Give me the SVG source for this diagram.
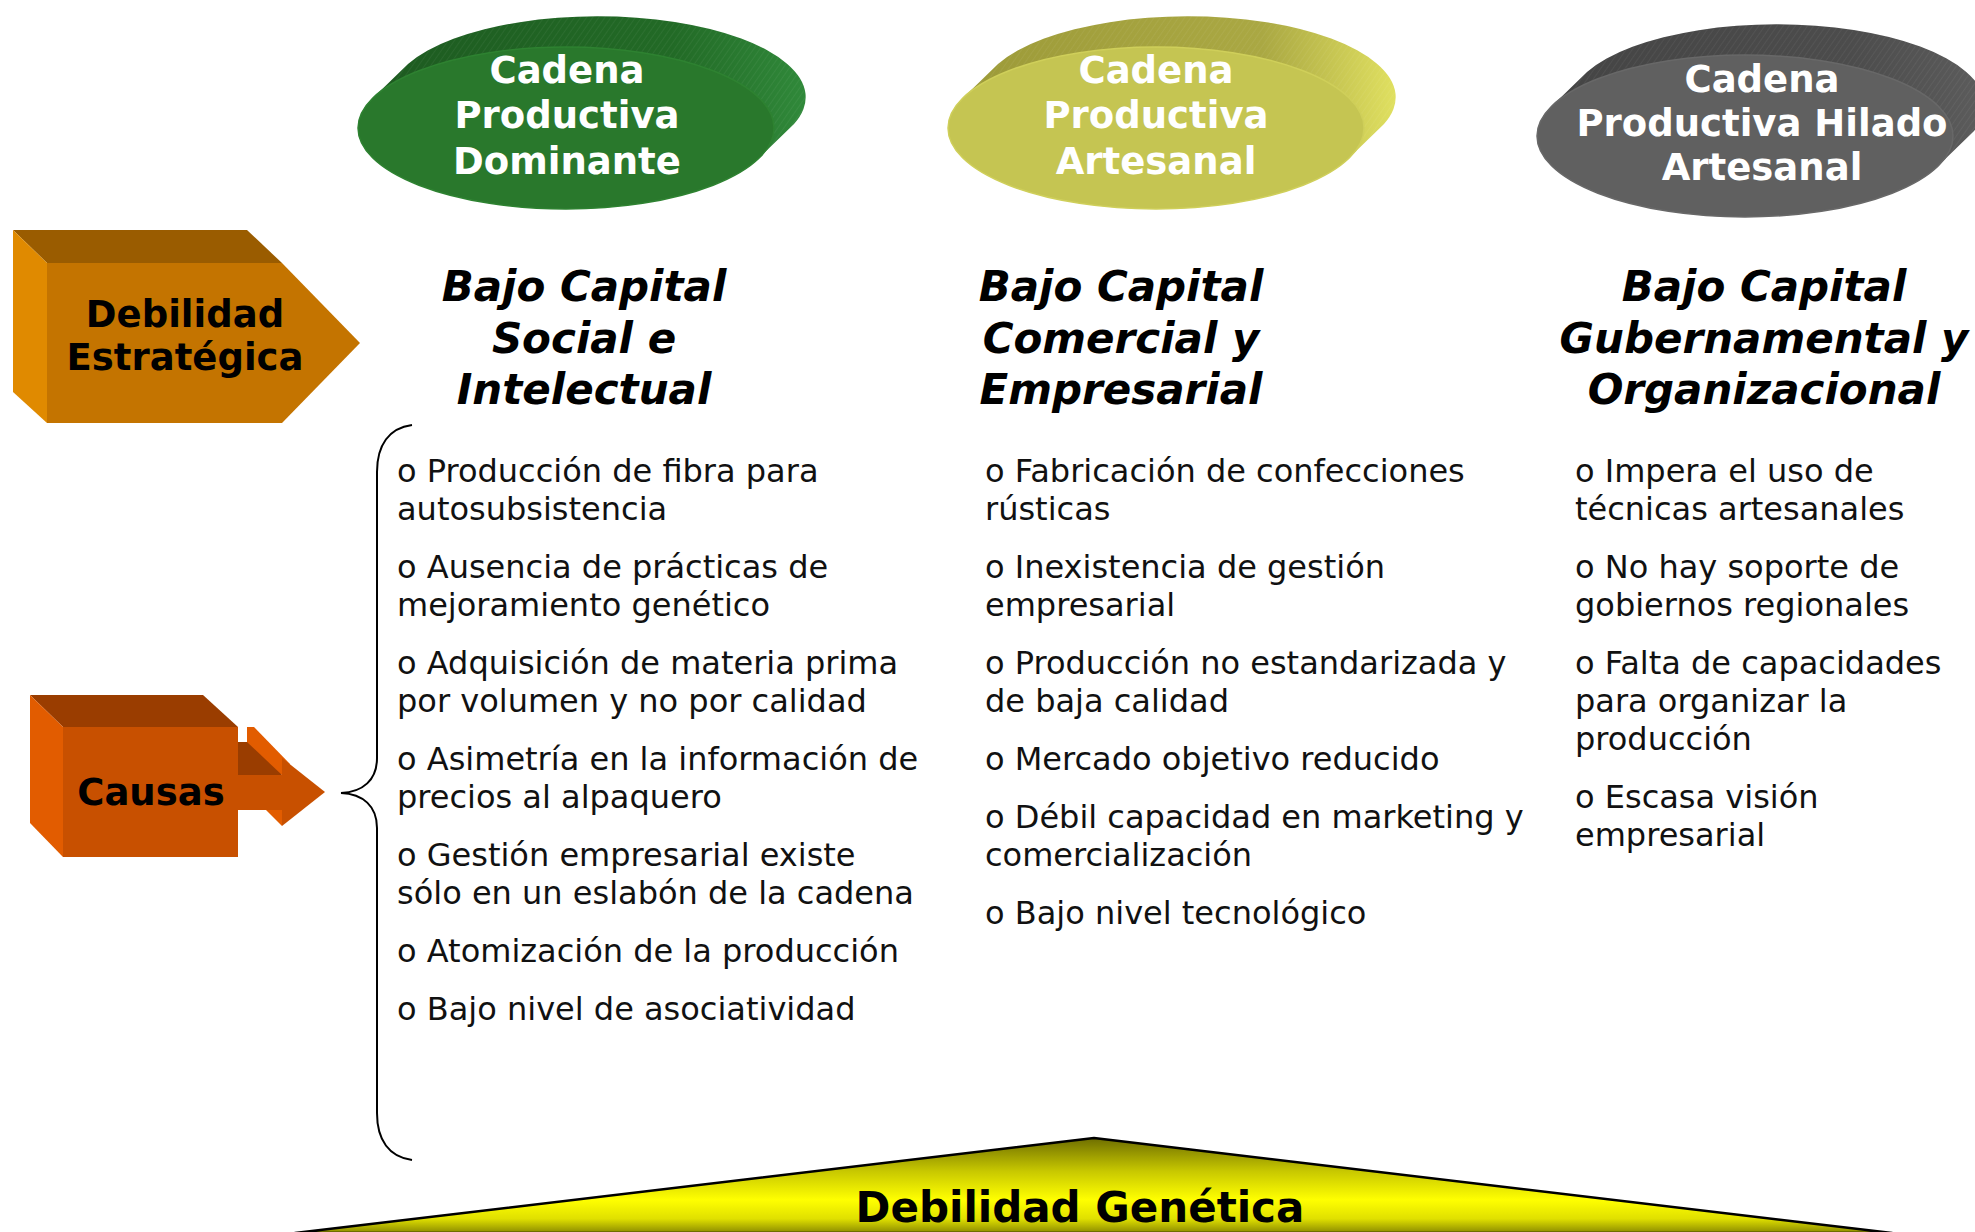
<svg xmlns="http://www.w3.org/2000/svg" width="1975" height="1232" viewBox="0 0 1975 1232">
<style>
  .oval { font-family: "DejaVu Sans", Verdana, sans-serif; font-weight: bold; font-size: 37px; fill: #ffffff; text-anchor: middle; }
  .box { font-family: "DejaVu Sans", Verdana, sans-serif; font-weight: bold; font-size: 37px; fill: #000000; text-anchor: middle; }
  .head { font-family: "DejaVu Sans", Verdana, sans-serif; font-weight: bold; font-style: italic; font-size: 42px; fill: #000000; text-anchor: middle; }
  .item { font-family: "DejaVu Sans", Verdana, sans-serif; font-size: 32px; fill: #111111; }
  .base { font-family: "DejaVu Sans", Verdana, sans-serif; font-weight: bold; font-size: 42px; fill: #000000; text-anchor: middle; }
  .brace { fill: none; stroke: #000000; stroke-width: 2; }
</style>
<defs>
  <pattern id="hatch" width="5" height="5" patternUnits="userSpaceOnUse" patternTransform="rotate(35)">
    <line x1="0" y1="0" x2="0" y2="5" stroke="#ffffff" stroke-opacity="0.10" stroke-width="1"/>
  </pattern>
  <linearGradient id="gSide" x1="0" y1="0" x2="1" y2="0">
    <stop offset="0" stop-color="#1d5a20"/>
    <stop offset="0.7" stop-color="#226a26"/>
    <stop offset="1" stop-color="#30893a"/>
  </linearGradient>
  <linearGradient id="ySide" x1="0" y1="0" x2="1" y2="0">
    <stop offset="0" stop-color="#9c9a38"/>
    <stop offset="0.7" stop-color="#aaa843"/>
    <stop offset="1" stop-color="#e0e060"/>
  </linearGradient>
  <linearGradient id="kSide" x1="0" y1="0" x2="1" y2="0">
    <stop offset="0" stop-color="#444444"/>
    <stop offset="0.7" stop-color="#4c4c4c"/>
    <stop offset="1" stop-color="#5c5c5c"/>
  </linearGradient>
  <linearGradient id="baseGrad" x1="0" y1="0" x2="0" y2="1">
    <stop offset="0" stop-color="#6e6e00"/>
    <stop offset="0.35" stop-color="#c8c800"/>
    <stop offset="0.65" stop-color="#ffff00"/>
    <stop offset="0.85" stop-color="#e0e000"/>
    <stop offset="1" stop-color="#8a8a00"/>
  </linearGradient>
</defs>

<rect x="0" y="0" width="1975" height="1232" fill="#ffffff"/>

<!-- Top ovals -->
<g id="cadena-dominante">
  <path d="M 373,98 L 408,64 A 208 81 0 0 1 794,124 L 759,158 A 208 81 0 0 1 373,98 Z" fill="url(#gSide)"/>
  <path d="M 373,98 L 408,64 A 208 81 0 0 1 794,124 L 759,158 A 208 81 0 0 1 373,98 Z" fill="url(#hatch)"/>
  <ellipse cx="566" cy="128" rx="208" ry="81" fill="#29782c" stroke="#2e8231" stroke-width="1.5"/>
  <text class="oval" x="567" y="83">Cadena</text>
  <text class="oval" x="567" y="128">Productiva</text>
  <text class="oval" x="567" y="174">Dominante</text>
</g>

<g id="cadena-artesanal">
  <path d="M 963,98 L 998,64 A 208 81 0 0 1 1384,124 L 1349,158 A 208 81 0 0 1 963,98 Z" fill="url(#ySide)"/>
  <path d="M 963,98 L 998,64 A 208 81 0 0 1 1384,124 L 1349,158 A 208 81 0 0 1 963,98 Z" fill="url(#hatch)"/>
  <ellipse cx="1156" cy="128" rx="208" ry="81" fill="#c5c552" stroke="#cfcf5a" stroke-width="1.5"/>
  <text class="oval" x="1156" y="83">Cadena</text>
  <text class="oval" x="1156" y="128">Productiva</text>
  <text class="oval" x="1156" y="174">Artesanal</text>
</g>

<g id="cadena-hilado">
  <path d="M 1552,106 L 1587,72 A 208 81 0 0 1 1973,132 L 1938,166 A 208 81 0 0 1 1552,106 Z" fill="url(#kSide)"/>
  <path d="M 1552,106 L 1587,72 A 208 81 0 0 1 1973,132 L 1938,166 A 208 81 0 0 1 1552,106 Z" fill="url(#hatch)"/>
  <ellipse cx="1745" cy="136" rx="208" ry="81" fill="#606060" stroke="#686868" stroke-width="1.5"/>
  <text class="oval" x="1762" y="92">Cadena</text>
  <text class="oval" x="1762" y="136">Productiva Hilado</text>
  <text class="oval" x="1762" y="180">Artesanal</text>
</g>

<!-- Debilidad Estrategica -->
<g id="debilidad-estrategica">
  <polygon points="13,230 247,230 282,263 47,263" fill="#9a5c00"/>
  <polygon points="13,230 47,263 47,423 13,392" fill="#e08a00"/>
  <polygon points="47,263 282,263 360,343 282,423 47,423" fill="#c47400"/>
  <text class="box" x="185" y="327">Debilidad</text>
  <text class="box" x="185" y="370">Estratégica</text>
</g>

<!-- Causas -->
<g id="causas">
  <polygon points="30,695 203,695 238,727 63,727" fill="#9a3d00"/>
  <polygon points="30,695 63,727 63,857 30,823" fill="#e25c00"/>
  <polygon points="238,742 263,742 282,775 238,775" fill="#9a3d00"/>
  <polygon points="247,727 254,727 290,764 282,775 247,742" fill="#e25c00"/>
  <polygon points="282,758 325,792 282,826" fill="#c85000"/>
  <rect x="238" y="775" width="46" height="35" fill="#c85000"/>
  <polygon points="266,810 282,810 282,826" fill="#e25c00"/>
  <rect x="63" y="727" width="175" height="130" fill="#c85000"/>
  <text class="box" x="151" y="805">Causas</text>
</g>

<!-- Column headers -->
<g id="header-social">
  <text class="head" x="584" y="301">Bajo Capital</text>
  <text class="head" x="584" y="353">Social e</text>
  <text class="head" x="584" y="404">Intelectual</text>
</g>
<g id="header-comercial">
  <text class="head" x="1121" y="301">Bajo Capital</text>
  <text class="head" x="1121" y="353">Comercial y</text>
  <text class="head" x="1121" y="404">Empresarial</text>
</g>
<g id="header-gubernamental">
  <text class="head" x="1764" y="301">Bajo Capital</text>
  <text class="head" x="1764" y="353">Gubernamental y</text>
  <text class="head" x="1764" y="404">Organizacional</text>
</g>

<!-- Connectors -->
<g id="connectors">
  <path class="brace" d="M 412,425 C 389,428 377,445 377,472 L 377,758 C 377,780 363,792 341,793 C 363,794 377,806 377,828 L 377,1113 C 377,1140 389,1157 412,1160"/>
</g>

<!-- Column 1 items -->
<g id="items-social">
  <text class="item" x="397" y="482">o Producción de fibra para</text>
  <text class="item" x="397" y="520">autosubsistencia</text>
  <text class="item" x="397" y="578">o Ausencia de prácticas de</text>
  <text class="item" x="397" y="616">mejoramiento genético</text>
  <text class="item" x="397" y="674">o Adquisición de materia prima</text>
  <text class="item" x="397" y="712">por volumen y no por calidad</text>
  <text class="item" x="397" y="770">o Asimetría en la información de</text>
  <text class="item" x="397" y="808">precios al alpaquero</text>
  <text class="item" x="397" y="866">o Gestión empresarial existe</text>
  <text class="item" x="397" y="904">sólo en un eslabón de la cadena</text>
  <text class="item" x="397" y="962">o Atomización de la producción</text>
  <text class="item" x="397" y="1020">o Bajo nivel de asociatividad</text>
</g>

<!-- Column 2 items -->
<g id="items-comercial">
  <text class="item" x="985" y="482">o Fabricación de confecciones</text>
  <text class="item" x="985" y="520">rústicas</text>
  <text class="item" x="985" y="578">o Inexistencia de gestión</text>
  <text class="item" x="985" y="616">empresarial</text>
  <text class="item" x="985" y="674">o Producción no estandarizada y</text>
  <text class="item" x="985" y="712">de baja calidad</text>
  <text class="item" x="985" y="770">o Mercado objetivo reducido</text>
  <text class="item" x="985" y="828">o Débil capacidad en marketing y</text>
  <text class="item" x="985" y="866">comercialización</text>
  <text class="item" x="985" y="924">o Bajo nivel tecnológico</text>
</g>

<!-- Column 3 items -->
<g id="items-gubernamental">
  <text class="item" x="1575" y="482">o Impera el uso de</text>
  <text class="item" x="1575" y="520">técnicas artesanales</text>
  <text class="item" x="1575" y="578">o No hay soporte de</text>
  <text class="item" x="1575" y="616">gobiernos regionales</text>
  <text class="item" x="1575" y="674">o Falta de capacidades</text>
  <text class="item" x="1575" y="712">para organizar la</text>
  <text class="item" x="1575" y="750">producción</text>
  <text class="item" x="1575" y="808">o Escasa visión</text>
  <text class="item" x="1575" y="846">empresarial</text>
</g>

<!-- Base triangle -->
<g id="debilidad-genetica">
  <polygon points="295,1233 1094,1138 1892,1233" fill="url(#baseGrad)" stroke="#000000" stroke-width="2.5" stroke-linejoin="round"/>
  <text class="base" x="1080" y="1222">Debilidad Genética</text>
</g>
</svg>
